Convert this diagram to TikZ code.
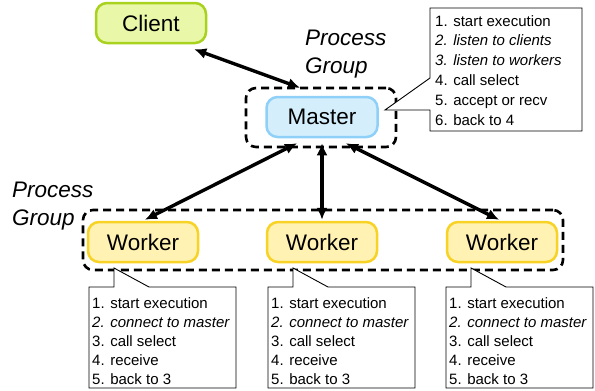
\documentclass[tikz,border=0pt]{standalone}
\usepackage{fontspec}
\setmainfont{Liberation Sans}
\usetikzlibrary{arrows.meta}
\definecolor{clientfill}{HTML}{E8F7A8}
\definecolor{clientline}{HTML}{A8D21E}
\definecolor{masterfill}{HTML}{D4EEFC}
\definecolor{masterline}{HTML}{8ED0F7}
\definecolor{workerfill}{HTML}{FFF2B2}
\definecolor{workerline}{HTML}{F8D225}
\tikzset{
  proc/.style={draw, rounded corners=11pt, line width=2.5pt, minimum width=110pt,
    minimum height=40pt, inner sep=0pt, font=\fontsize{22.5}{27}\selectfont},
  group/.style={draw, dash pattern=on 8pt off 5pt, line width=2.6pt,
    rounded corners=10pt, inner sep=0pt},
  link/.style={line width=3.4pt,
    {Latex[length=12pt,width=11pt]}-{Latex[length=12pt,width=11pt]}},
  callout/.style={draw, line width=0.9pt, fill=white, line join=miter},
  steps/.style={anchor=north west, align=left, inner sep=0pt,
    font=\fontsize{15}{19}\selectfont},
  grouplabel/.style={anchor=north west, align=left, inner sep=0pt,
    font=\fontsize{22.5}{28}\selectfont\itshape},
}
\begin{document}
\begin{tikzpicture}[x=1pt,y=-1pt]
\useasboundingbox (0,0) rectangle (595,391);

% process boxes
\node[proc, fill=clientfill, draw=clientline] (client) at (151,23) {Client};
\node[proc, fill=masterfill, draw=masterline, minimum width=111pt] (master) at (322,117) {Master};
\node[proc, fill=workerfill, draw=workerline] (worker1) at (143,242) {Worker};
\node[proc, fill=workerfill, draw=workerline] (worker2) at (322,242) {Worker};
\node[proc, fill=workerfill, draw=workerline] (worker3) at (502,242) {Worker};

% process groups
\node[group, minimum width=150pt, minimum height=59pt] (mgroup) at (321,117.5) {};
\node[group, minimum width=480pt, minimum height=60pt] (wgroup) at (323,240) {};
\node[grouplabel] (mlabel) at (305,30) {Process\\Group};
\node[grouplabel] (wlabel) at (12,182) {Process\\Group};

% call-outs with the step lists
\draw[callout] (430,8) -- (582,8) -- (582,131) -- (430,131) -- (430,110)
  -- (385,110) -- (430,78) -- cycle;
\node[steps, font=\fontsize{15}{19.8}\selectfont] (msteps) at (435,15) {1. start execution\\
  \textit{2. listen to clients}\\
  \textit{3. listen to workers}\\
  4. call select\\
  5. accept or recv\\
  6. back to 4};

\foreach \x/\n in {89/1,268/2,446/3}{
  \draw[callout] (\x,287) -- ++(25,0) -- ++(0,-19) -- ++(35,19) -- (\x+147,287)
    -- (\x+147,388) -- (\x,388) -- cycle;
  \node[steps] (wsteps\n) at (\x+3,297) {1. start execution\\
    \textit{2. connect to master}\\
    3. call select\\
    4. receive\\
    5. back to 3};
}

% connections
\draw[link] ([xshift=-13pt,yshift=-5pt]client.south east) -- ([xshift=-21pt,yshift=-1pt]mgroup.north);
\draw[link] ([xshift=-25pt,yshift=-5pt]master.south) -- ([xshift=2pt,yshift=1pt]worker1.north);
\draw[link] ([yshift=-5pt]master.south) -- ([yshift=1pt]worker2.north);
\draw[link] ([xshift=24pt,yshift=-5pt]master.south) -- ([xshift=-3pt,yshift=1pt]worker3.north);
\end{tikzpicture}
\end{document}
